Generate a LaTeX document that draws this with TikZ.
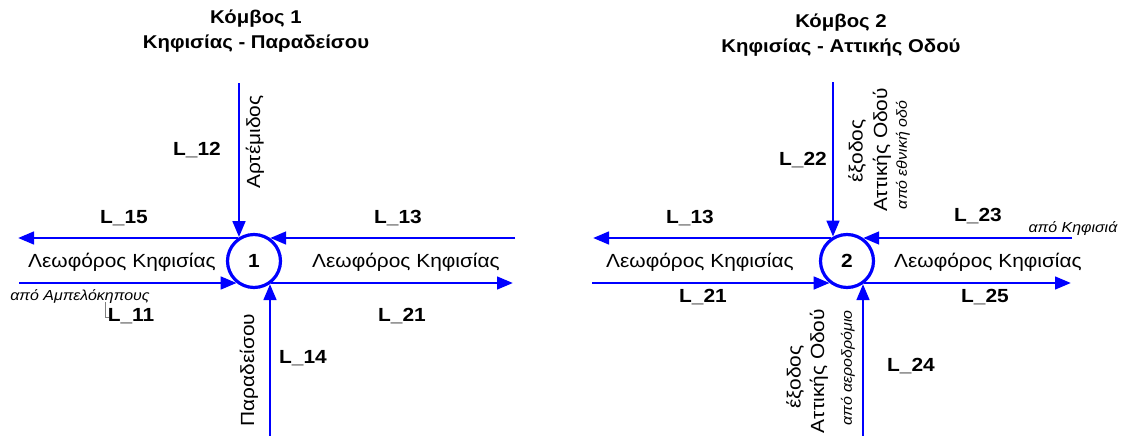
\documentclass[tikz,border=0pt]{standalone}
\usepackage{fontspec}
\setmainfont{Liberation Sans}[FakeStretch=1.1]
\usetikzlibrary{arrows.meta}
\begin{document}
\begin{tikzpicture}[x=1pt,y=-1pt,
  road/.style={draw=blue, line width=2.9pt, -{Triangle[length=16pt,width=12.5pt]}},
  junction/.style={circle, draw=blue, line width=3.2pt, minimum size=53pt, inner sep=0pt,
    font=\fontsize{19}{19}\selectfont\bfseries},
  lbl/.style={font=\fontsize{19}{19}\selectfont\bfseries, inner sep=0pt},
  street/.style={font=\fontsize{19}{19}\selectfont, inner sep=0pt},
  origin/.style={font=\fontsize{14.5}{14.5}\selectfont\itshape, inner sep=0pt},
  heading/.style={font=\fontsize{18.5}{25}\selectfont\bfseries, align=center, inner sep=0pt},
  leader/.style={draw=gray, line width=0.8pt}]
\useasboundingbox (0,0) rectangle (1121,436);

% ---------- junction 1 ----------
\node[heading] (t1) at (256,31) {Κόμβος 1\\Κηφισίας - Παραδείσου};
\node[junction] (c1) at (254,261) {1};
\coordinate (e15) at (18,238);
\coordinate (e13) at (515,238);
\coordinate (e11) at (19,283);
\coordinate (e21) at (513,283);
\coordinate (e12) at (239,83);
\coordinate (e14) at (270,436);

\draw[road] (c1.125 |- e15) -- (e15);
\draw[road] (e13) -- (c1.55 |- e13);
\draw[road] (e11) -- (c1.232 |- e11);
\draw[road] (c1.-52 |- e21) -- (e21);
\draw[road] (e12) -- (e12 |- c1.122);
\draw[road] (e14) -- (e14 |- c1.-55);

\node[lbl] (l12) at (197,150) {L\_12};
\node[lbl] (l15) at (124,218) {L\_15};
\node[lbl] (l13) at (398,218) {L\_13};
\node[lbl] (l11) at (131,316) {L\_11};
\node[lbl] (l21) at (402,316) {L\_21};
\node[lbl] (l14) at (303,358) {L\_14};

\node[street] (k1w) at (122,262) {Λεωφόρος Κηφισίας};
\node[street] (k1e) at (406,262) {Λεωφόρος Κηφισίας};
\node[street, rotate=90] (art) at (255,142) {Αρτέμιδος};
\node[street, rotate=90] (par) at (249,370) {Παραδείσου};
\node[origin] (amp) at (80,297) {από Αμπελόκηπους};
\draw[leader] (105,302) -- (105,317) -- (109,317);

% ---------- junction 2 ----------
\node[heading] (t2) at (841,35) {Κόμβος 2\\Κηφισίας - Αττικής Οδού};
\node[junction] (c2) at (847,261) {2};
\coordinate (f13) at (593,238);
\coordinate (f23) at (1072,238);
\coordinate (f21) at (592,283);
\coordinate (f25) at (1071,283);
\coordinate (f22) at (833,82);
\coordinate (f24) at (863,436);

\draw[road] (c2.125 |- f13) -- (f13);
\draw[road] (f23) -- (c2.55 |- f23);
\draw[road] (f21) -- (c2.232 |- f21);
\draw[road] (c2.-52 |- f25) -- (f25);
\draw[road] (f22) -- (f22 |- c2.120);
\draw[road] (f24) -- (f24 |- c2.-55);

\node[lbl] (l22) at (803,160) {L\_22};
\node[lbl] (l13b) at (690,218) {L\_13};
\node[lbl] (l23) at (978,216) {L\_23};
\node[lbl] (l21b) at (703,297) {L\_21};
\node[lbl] (l25) at (985,297) {L\_25};
\node[lbl] (l24) at (911,366) {L\_24};

\node[street] (k2w) at (700,262) {Λεωφόρος Κηφισίας};
\node[street] (k2e) at (988,262) {Λεωφόρος Κηφισίας};
\node[origin] (kif) at (1073,229) {από Κηφισιά};

\node[street, rotate=90] (xn1) at (857,151) {έξοδος};
\node[street, rotate=90] (xn2) at (882,150) {Αττικής Οδού};
\node[origin, rotate=90] (xn3) at (903,155) {από εθνική οδό};

\node[street, rotate=90] (xs1) at (795,377) {έξοδος};
\node[street, rotate=90] (xs2) at (819,371) {Αττικής Οδού};
\node[origin, rotate=90] (xs3) at (848,368) {από αεροδρόμιο};
\end{tikzpicture}
\end{document}
